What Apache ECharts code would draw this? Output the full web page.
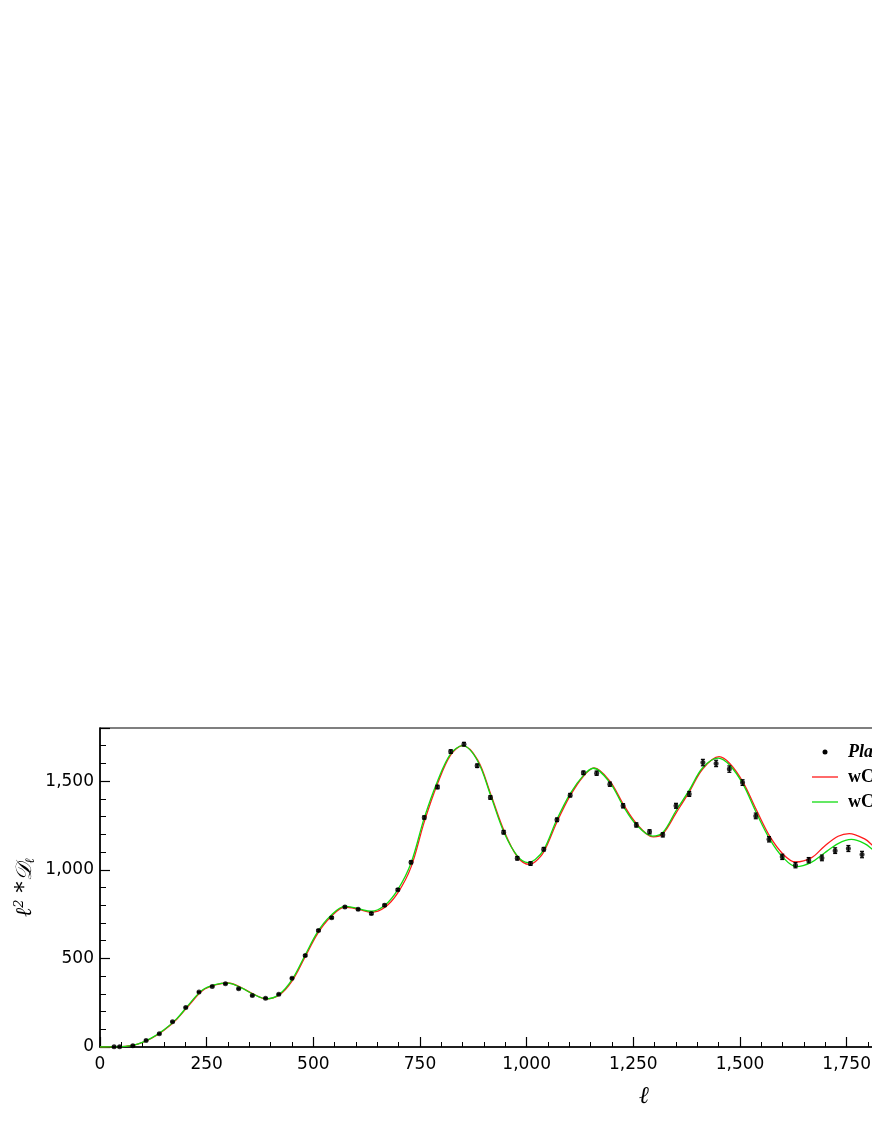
<!DOCTYPE html>
<html>
<head>
<meta charset="utf-8">
<script src="https://cdn.jsdelivr.net/npm/echarts@6/dist/echarts.min.js"></script>
<style>
html,body{margin:0;padding:0;background:#fff;overflow:hidden;width:872px;height:1128px;}
#chart{width:1200px;height:1128px;}
</style>
</head>
<body>
<div id="chart"></div>
<script>
// Data points (Planck binned spectrum)
const dataEll = [33, 46, 77, 108, 139, 170, 201, 232, 263, 294, 325, 357, 388, 419, 450, 481, 512, 543, 574, 605, 636, 667, 698, 729, 760, 791, 822, 853, 884, 915, 946, 978, 1009, 1040, 1071, 1102, 1133, 1164, 1195, 1226, 1257, 1288, 1319, 1350, 1381, 1413, 1444, 1475, 1506, 1537, 1568, 1599, 1630, 1661, 1692, 1723, 1754, 1786];
const dataVal = [1, 2, 7, 37, 75, 143, 223, 310, 342, 357, 329, 290, 275, 297, 388, 516, 658, 730, 790, 777, 753, 800, 888, 1042, 1295, 1467, 1667, 1709, 1587, 1408, 1212, 1065, 1035, 1116, 1282, 1421, 1547, 1545, 1483, 1361, 1253, 1214, 1197, 1361, 1428, 1605, 1600, 1568, 1492, 1304, 1172, 1073, 1026, 1054, 1067, 1108, 1120, 1086];
const dataErr = [3, 3, 3, 3, 3, 3, 3, 3, 3, 3, 3, 3, 3, 3, 4, 5, 5, 5, 5, 5, 6, 6, 6, 8, 9, 10, 10, 10, 10, 10, 10, 10, 10, 10, 10, 10, 10, 12, 12, 12, 12, 12, 12, 14, 14, 18, 18, 18, 16, 16, 15, 15, 15, 15, 16, 16, 17, 18];

// Model curve 1 (red)
const redEll = [0, 30, 60, 90, 120, 150, 180, 210, 240, 270, 300, 330, 360, 390, 420, 450, 480, 510, 540, 574, 605, 636, 667, 698, 729, 760, 791, 822, 850, 885, 916, 947, 978, 1006, 1020, 1040, 1071, 1102, 1133, 1158, 1195, 1226, 1257, 1297, 1319, 1350, 1380, 1413, 1451, 1476, 1507, 1538, 1570, 1601, 1630, 1667, 1698, 1730, 1756, 1792, 1812, 1840];
const redVal = [0, 1, 4, 17, 48, 95, 157, 240, 318, 350, 361, 337, 298, 271, 293, 372, 505, 640, 732, 790, 778, 760, 787, 870, 1015, 1270, 1485, 1648, 1700, 1620, 1425, 1220, 1075, 1030, 1045, 1100, 1270, 1418, 1528, 1575, 1500, 1372, 1262, 1186, 1203, 1320, 1435, 1570, 1638, 1600, 1495, 1340, 1188, 1088, 1044, 1067, 1133, 1189, 1204, 1174, 1135, 1075];

// Model curve 2 (green)
const greenEll = [0, 30, 60, 90, 120, 150, 180, 210, 240, 270, 300, 330, 360, 390, 420, 450, 480, 510, 540, 574, 605, 636, 667, 698, 729, 760, 791, 822, 850, 885, 916, 947, 978, 1003, 1020, 1040, 1071, 1102, 1133, 1156, 1195, 1226, 1257, 1295, 1319, 1350, 1380, 1413, 1449, 1476, 1507, 1538, 1570, 1601, 1632, 1667, 1698, 1730, 1761, 1792, 1812, 1840];
const greenVal = [0, 1, 4, 18, 50, 97, 160, 245, 322, 352, 360, 335, 297, 272, 297, 380, 515, 650, 740, 794, 781, 766, 798, 888, 1038, 1293, 1500, 1655, 1700, 1614, 1416, 1210, 1078, 1040, 1058, 1112, 1285, 1430, 1533, 1573, 1492, 1361, 1254, 1190, 1210, 1333, 1445, 1577, 1630, 1590, 1483, 1323, 1172, 1069, 1018, 1042, 1095, 1148, 1171, 1148, 1112, 1060];

const xTicks = { min: 0, max: 2550, interval: 250 };
const yTicks = { min: 0, max: 1800, interval: 500 };

const seriesNames = ['Planck 2018', 'wCDM (model I)', 'wCDM (model II)'];

function zip(a, b) { return a.map((v, i) => [v, b[i]]); }
const pts = dataEll.map((l, i) => [l, dataVal[i], dataErr[i]]);

const chart = echarts.init(document.getElementById('chart'), null, { renderer: 'canvas', width: 1200, height: 1128 });
const fmt = v => Number(v).toLocaleString('en-US');

const option = {
  backgroundColor: '#fff',
  animation: false,
  grid: { left: 100, top: 728, width: 1088, height: 319, show: true, borderColor: '#000', borderWidth: 1.2, backgroundColor: 'transparent', outerBoundsMode: 'none', containLabel: false },
  xAxis: {
    type: 'value', min: xTicks.min, max: xTicks.max, interval: xTicks.interval,
    name: 'ℓ', nameLocation: 'middle', nameGap: 38, nameMoveOverlap: false,
    nameTextStyle: { fontFamily: 'DejaVu Serif', fontStyle: 'italic', fontSize: 24, color: '#000' },
    axisLine: { lineStyle: { color: '#000', width: 1.5 } },
    axisTick: { inside: true, length: 10, lineStyle: { color: '#000', width: 1.2 } },
    minorTick: { show: true, splitNumber: 5, length: 5, lineStyle: { color: '#000', width: 1 } },
    axisLabel: { margin: 9, fontFamily: 'DejaVu Sans', fontSize: 17, color: '#000', formatter: fmt, showMaxLabel: false },
    splitLine: { show: false }
  },
  yAxis: {
    type: 'value', min: yTicks.min, max: yTicks.max, interval: yTicks.interval,
    name: '{a|ℓ}{sup|2}{a| *}{d|𝒟}{sub|ℓ}', nameLocation: 'middle', nameGap: 62, nameRotate: 90, nameMoveOverlap: false,
    nameTextStyle: {
      rich: {
        a: { fontFamily: 'DejaVu Serif', fontStyle: 'italic', fontSize: 22, color: '#000' },
        d: { fontFamily: 'DejaVu Serif', fontStyle: 'italic', fontSize: 22, color: '#000' },
        sup: { fontFamily: 'DejaVu Serif', fontStyle: 'italic', fontSize: 13, verticalAlign: 'top', padding: [0, 0, 12, 0], color: '#000' },
        sub: { fontFamily: 'DejaVu Serif', fontStyle: 'italic', fontSize: 13, padding: [10, 0, 0, 0], color: '#000' }
      }
    },
    axisLine: { show: true, lineStyle: { color: '#000', width: 1.5 } },
    axisTick: { inside: true, length: 10, lineStyle: { color: '#000', width: 1.2 } },
    minorTick: { show: true, splitNumber: 5, length: 6, lineStyle: { color: '#000', width: 1 } },
    axisLabel: { margin: 6, fontFamily: 'DejaVu Sans', fontSize: 17, color: '#000', formatter: fmt, showMaxLabel: false },
    splitLine: { show: false }
  },
  series: [
    {
      name: seriesNames[1], type: 'line', data: zip(redEll, redVal), smooth: 0.35, showSymbol: false, symbol: 'none',
      lineStyle: { color: '#ff1a1a', width: 1.3 }, z: 2, clip: true
    },
    {
      name: seriesNames[2], type: 'line', data: zip(greenEll, greenVal), smooth: 0.35, showSymbol: false, symbol: 'none',
      lineStyle: { color: '#10dc10', width: 1.3 }, z: 3, clip: true
    },
    {
      name: 'err', type: 'custom', data: pts, z: 4,
      renderItem: function (params, api) {
        const x = api.value(0), y = api.value(1), e = api.value(2);
        const top = api.coord([x, y + e]);
        const bot = api.coord([x, y - e]);
        const c = 2;
        const st = { stroke: '#000', lineWidth: 1.2 };
        return { type: 'group', children: [
          { type: 'line', shape: { x1: top[0], y1: top[1], x2: bot[0], y2: bot[1] }, style: st },
          { type: 'line', shape: { x1: top[0] - c, y1: top[1], x2: top[0] + c, y2: top[1] }, style: st },
          { type: 'line', shape: { x1: bot[0] - c, y1: bot[1], x2: bot[0] + c, y2: bot[1] }, style: st }
        ]};
      }
    },
    {
      name: seriesNames[0], type: 'scatter', data: pts.map(p => [p[0], p[1]]), symbol: 'circle', symbolSize: 5,
      itemStyle: { color: '#000' }, z: 5
    }
  ],
  graphic: [
    { type: 'circle', shape: { cx: 825, cy: 752, r: 2.5 }, style: { fill: '#000' }, z: 10 },
    { type: 'text', x: 848, y: 752, style: { text: seriesNames[0], font: 'italic bold 18px "Liberation Serif"', fill: '#000', textVerticalAlign: 'middle' }, z: 10 },
    { type: 'line', shape: { x1: 812, y1: 777, x2: 838, y2: 777 }, style: { stroke: '#ff1a1a', lineWidth: 1.3 }, z: 10 },
    { type: 'text', x: 848, y: 777, style: { text: seriesNames[1], font: 'bold 18px "Liberation Serif"', fill: '#000', textVerticalAlign: 'middle' }, z: 10 },
    { type: 'line', shape: { x1: 812, y1: 802, x2: 838, y2: 802 }, style: { stroke: '#10dc10', lineWidth: 1.3 }, z: 10 },
    { type: 'text', x: 848, y: 802, style: { text: seriesNames[2], font: 'bold 18px "Liberation Serif"', fill: '#000', textVerticalAlign: 'middle' }, z: 10 }
  ]
};
chart.setOption(option);
</script>
</body>
</html>
